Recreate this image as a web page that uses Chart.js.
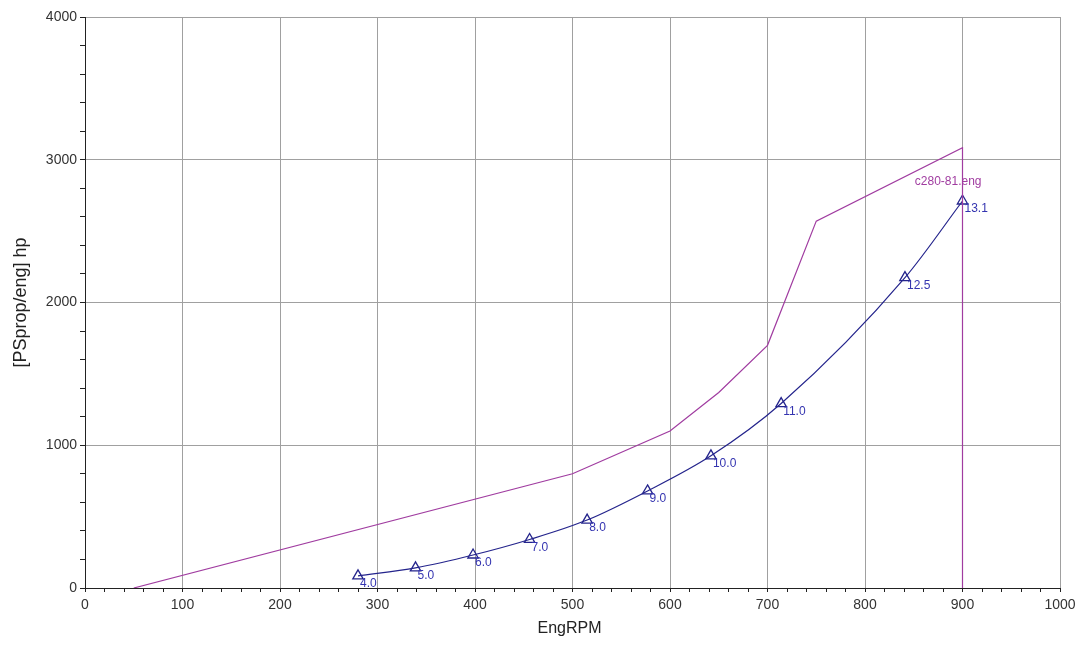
<!DOCTYPE html>
<html>
<head>
<meta charset="utf-8">
<script src="https://cdn.jsdelivr.net/npm/chart.js@4.4.1/dist/chart.umd.min.js"></script>
<style>
  body { margin: 0; background: #fff; }
  #propChart { display: block; }
</style>
</head>
<body>
<canvas id="propChart" width="1090" height="651"></canvas>
<script>
// engine limit curve (c280-81.eng)
const engRpm = [50, 500, 600, 650, 700, 750, 900, 900];
const engPower = [0, 800, 1100, 1370, 1700, 2570, 3085, 0];
const engName = "c280-81.eng";

// propeller demand curve, one point per ship speed
const propRpm = [280, 339, 398, 456, 515, 577, 642, 714, 841, 900];
const propPower = [85, 141, 231, 340, 476, 680, 926, 1292, 2174, 2711];
const speedLabels = ["4.0", "5.0", "6.0", "7.0", "8.0", "9.0", "10.0", "11.0", "12.5", "13.1"];

const xMajor = [0, 100, 200, 300, 400, 500, 600, 700, 800, 900, 1000];
const yMajor = [0, 1000, 2000, 3000, 4000];

const FONT = "'Liberation Sans', Arial, sans-serif";
const purple = "#a03ca0";
const navy = "#24248c";

function toPoints(xs, ys) {
  return xs.map((x, i) => ({ x: x, y: ys[i] }));
}

const labelsPlugin = {
  id: "labelsPlugin",
  afterDatasetsDraw(chart) {
    const ctx = chart.ctx;
    const xs = chart.scales.x;
    const ys = chart.scales.y;

    // speed labels next to the triangles
    const meta = chart.getDatasetMeta(1);
    ctx.save();
    ctx.font = "12px " + FONT;
    ctx.fillStyle = "#3434b0";
    ctx.textAlign = "left";
    ctx.textBaseline = "middle";
    meta.data.forEach((pt, i) => {
      ctx.fillText(speedLabels[i], pt.x + 2, pt.y + 8);
    });

    // engine file name near the top of the limit curve
    const last = engPower.indexOf(Math.max(...engPower));
    ctx.fillStyle = purple;
    ctx.textAlign = "right";
    ctx.fillText(engName, xs.getPixelForValue(engRpm[last]) + 19, ys.getPixelForValue(engPower[last]) + 34);

    // axis titles
    ctx.fillStyle = "#222";
    ctx.font = "16px " + FONT;
    ctx.textAlign = "center";
    ctx.fillText("EngRPM", (chart.chartArea.left + chart.chartArea.right) / 2 - 3, 629);
    ctx.font = "18px " + FONT;
    ctx.translate(21, (chart.chartArea.top + chart.chartArea.bottom) / 2);
    ctx.rotate(-Math.PI / 2);
    ctx.fillText("[PSprop/eng] hp", 0, 0);
    ctx.restore();
  }
};

const chart = new Chart(document.getElementById("propChart"), {
  type: "line",
  data: {
    datasets: [
      {
        data: toPoints(engRpm, engPower),
        borderColor: purple,
        borderWidth: 1.2,
        pointRadius: 0,
        tension: 0,
        fill: false
      },
      {
        data: toPoints(propRpm, propPower),
        borderColor: navy,
        borderWidth: 1.2,
        cubicInterpolationMode: "monotone",
        pointStyle: "triangle",
        pointRadius: 6,
        pointBorderColor: navy,
        pointBorderWidth: 1.3,
        pointBackgroundColor: "rgba(0,0,0,0)",
        fill: false
      }
    ]
  },
  options: {
    responsive: false,
    animation: false,
    devicePixelRatio: 1,
    layout: { padding: { top: 17, right: 30, left: 0, bottom: 0 } },
    plugins: { legend: { display: false }, tooltip: { enabled: false } },
    scales: {
      x: {
        type: "linear",
        min: 0,
        max: 1000,
        afterFit(scale) { scale.height = 63; },
        afterBuildTicks(scale) {
          const t = [];
          for (let v = 0; v <= 1000; v += 20) t.push({ value: v });
          scale.ticks = t;
        },
        ticks: {
          autoSkip: false,
          maxRotation: 0,
          padding: 5,
          color: "#333",
          font: { family: FONT, size: 14 },
          callback: (v) => (xMajor.includes(v) ? String(v) : "")
        },
        grid: {
          color: (c) => (c.tick && xMajor.includes(c.tick.value) ? "#a0a0a0" : "rgba(0,0,0,0)"),
          tickColor: "#222",
          tickLength: 4,
          lineWidth: 1
        },
        border: { color: "#222", width: 1 }
      },
      y: {
        type: "linear",
        min: 0,
        max: 4000,
        afterFit(scale) { scale.width = 85; },
        afterBuildTicks(scale) {
          const t = [];
          for (let v = 0; v <= 4000; v += 200) t.push({ value: v });
          scale.ticks = t;
        },
        ticks: {
          autoSkip: false,
          padding: 3,
          color: "#333",
          font: { family: FONT, size: 14 },
          callback: (v) => (yMajor.includes(v) ? String(v) : "")
        },
        grid: {
          color: (c) => (c.tick && yMajor.includes(c.tick.value) ? "#a0a0a0" : "rgba(0,0,0,0)"),
          tickColor: "#222",
          tickLength: 5,
          lineWidth: 1
        },
        border: { color: "#222", width: 1 }
      }
    }
  },
  plugins: [labelsPlugin]
});
</script>
</body>
</html>
